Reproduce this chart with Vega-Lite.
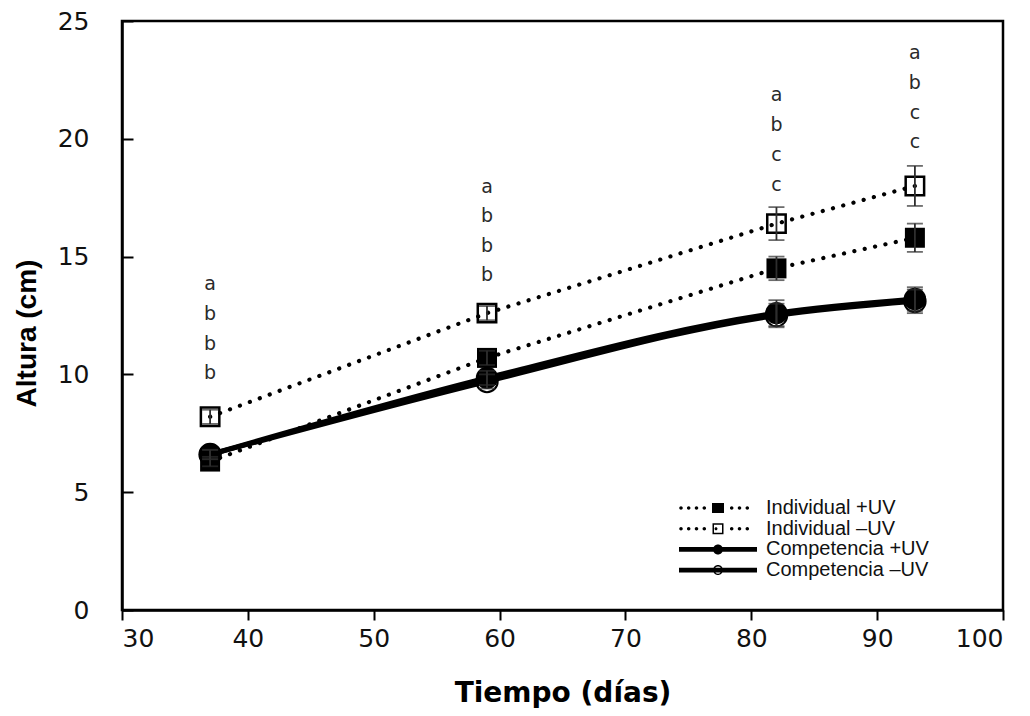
{
  "$schema": "https://vega.github.io/schema/vega-lite/v6.json",
  "width": 881,
  "height": 589,
  "autosize": "none",
  "padding": {"left": 122, "top": 21, "right": 27, "bottom": 106},
  "background": "white",
  "config": {
    "view": {"stroke": "black", "strokeWidth": 2.5},
    "axis": {
      "domainColor": "black",
      "domainWidth": 2.5,
      "tickColor": "black",
      "tickWidth": 2,
      "grid": false,
      "labelFont": "DejaVu Sans",
      "labelFontSize": 25,
      "labelColor": "#111",
      "titleColor": "black",
      "titleFontWeight": "bold"
    }
  },
  "datasets": {
    "medias": [
      {"dias": 37, "altura": 6.3, "ee": 0.2, "serie": "Individual +UV"},
      {"dias": 59, "altura": 10.7, "ee": 0.3, "serie": "Individual +UV"},
      {"dias": 82, "altura": 14.5, "ee": 0.5, "serie": "Individual +UV"},
      {"dias": 93, "altura": 15.8, "ee": 0.6, "serie": "Individual +UV"},
      {"dias": 37, "altura": 8.2, "ee": 0.3, "serie": "Individual –UV"},
      {"dias": 59, "altura": 12.6, "ee": 0.3, "serie": "Individual –UV"},
      {"dias": 82, "altura": 16.4, "ee": 0.7, "serie": "Individual –UV"},
      {"dias": 93, "altura": 18.0, "ee": 0.85, "serie": "Individual –UV"},
      {"dias": 37, "altura": 6.6, "ee": 0.2, "serie": "Competencia +UV"},
      {"dias": 59, "altura": 9.85, "ee": 0.3, "serie": "Competencia +UV"},
      {"dias": 82, "altura": 12.6, "ee": 0.55, "serie": "Competencia +UV"},
      {"dias": 93, "altura": 13.2, "ee": 0.5, "serie": "Competencia +UV"},
      {"dias": 37, "altura": 6.6, "ee": 0.2, "serie": "Competencia –UV"},
      {"dias": 59, "altura": 9.7, "ee": 0.3, "serie": "Competencia –UV"},
      {"dias": 82, "altura": 12.5, "ee": 0.5, "serie": "Competencia –UV"},
      {"dias": 93, "altura": 13.1, "ee": 0.5, "serie": "Competencia –UV"}
    ],
    "letras": [
      {"dias": 37, "nivel": 13.58, "letra": "a"},
      {"dias": 37, "nivel": 12.3, "letra": "b"},
      {"dias": 37, "nivel": 11.05, "letra": "b"},
      {"dias": 37, "nivel": 9.8, "letra": "b"},
      {"dias": 59, "nivel": 17.7, "letra": "a"},
      {"dias": 59, "nivel": 16.45, "letra": "b"},
      {"dias": 59, "nivel": 15.2, "letra": "b"},
      {"dias": 59, "nivel": 13.95, "letra": "b"},
      {"dias": 82, "nivel": 21.6, "letra": "a"},
      {"dias": 82, "nivel": 20.33, "letra": "b"},
      {"dias": 82, "nivel": 19.07, "letra": "c"},
      {"dias": 82, "nivel": 17.8, "letra": "c"},
      {"dias": 93, "nivel": 23.37, "letra": "a"},
      {"dias": 93, "nivel": 22.1, "letra": "b"},
      {"dias": 93, "nivel": 20.85, "letra": "c"},
      {"dias": 93, "nivel": 19.6, "letra": "c"}
    ]
  },
  "data": {"name": "medias"},
  "encoding": {
    "x": {
      "field": "dias", "type": "quantitative",
      "scale": {"domain": [30, 100], "nice": false, "zero": false},
      "axis": {
        "values": [30, 40, 50, 60, 70, 80, 90, 100],
        "title": "Tiempo (días)",
        "titleFont": "DejaVu Sans", "titleFontSize": 28,
        "tickSize": 10, "labelPadding": 6, "titlePadding": 28
      }
    },
    "y": {
      "field": "altura", "type": "quantitative",
      "scale": {"domain": [0, 25], "nice": false},
      "axis": {
        "values": [0, 5, 10, 15, 20, 25],
        "title": "Altura (cm)",
        "titleFont": "Liberation Sans", "titleFontSize": 28,
        "titleY": 312,
        "tickSize": -11, "labelPadding": 44, "titlePadding": 16
      }
    }
  },
  "layer": [
    {
      "transform": [{"filter": "datum.serie === 'Individual +UV'"}],
      "mark": {"type": "point", "shape": "square", "filled": true, "color": "black", "size": 400, "opacity": 1}
    },
    {
      "transform": [{"filter": "datum.serie === 'Individual –UV'"}],
      "mark": {"type": "point", "shape": "square", "filled": false, "fill": "white", "stroke": "black", "strokeWidth": 2.5, "size": 340, "opacity": 1}
    },
    {
      "transform": [{"filter": "datum.serie === 'Competencia –UV'"}],
      "mark": {"type": "point", "shape": "circle", "filled": false, "fill": "white", "stroke": "black", "strokeWidth": 2, "size": 460, "opacity": 1}
    },
    {
      "transform": [{"filter": "datum.serie === 'Competencia +UV'"}],
      "mark": {"type": "point", "shape": "circle", "filled": true, "color": "black", "size": 500, "opacity": 1}
    },
    {
      "transform": [{"filter": "indexof(datum.serie, 'Individual') === 0"}],
      "mark": {"type": "line", "color": "black", "strokeWidth": 4.2, "strokeDash": [0.1, 10.5], "strokeCap": "round"},
      "encoding": {"detail": {"field": "serie"}}
    },
    {
      "transform": [{"filter": "indexof(datum.serie, 'Competencia') === 0"}],
      "mark": {"type": "line", "color": "black", "strokeWidth": 5, "interpolate": "monotone"},
      "encoding": {"detail": {"field": "serie"}}
    },
    {
      "mark": {"type": "errorbar", "ticks": true, "size": 16, "thickness": 1.8, "color": "#2e2e2e"},
      "encoding": {
        "y": {"field": "altura", "type": "quantitative", "title": "Altura (cm)"},
        "yError": {"field": "ee"}
      }
    },
    {
      "data": {"name": "letras"},
      "mark": {"type": "text", "font": "DejaVu Sans", "fontSize": 19, "color": "#2a2a2a", "baseline": "alphabetic", "align": "center"},
      "encoding": {
        "y": {"field": "nivel", "type": "quantitative", "title": "Altura (cm)"},
        "text": {"field": "letra"}
      }
    },
    {
      "mark": {"type": "point", "filled": true, "color": "black", "opacity": 0, "size": 10},
      "encoding": {
        "shape": {
          "field": "serie", "type": "nominal",
          "scale": {
            "domain": ["Individual +UV", "Individual –UV", "Competencia +UV", "Competencia –UV"],
            "range": [
              "M-3.875,0 a0.175,0.175 0 1,0 0.35,0 a0.175,0.175 0 1,0 -0.35,0 Z M-3.105,0 a0.175,0.175 0 1,0 0.35,0 a0.175,0.175 0 1,0 -0.35,0 Z M-2.325,0 a0.175,0.175 0 1,0 0.35,0 a0.175,0.175 0 1,0 -0.35,0 Z M-1.545,0 a0.175,0.175 0 1,0 0.35,0 a0.175,0.175 0 1,0 -0.35,0 Z M1.195,0 a0.175,0.175 0 1,0 0.35,0 a0.175,0.175 0 1,0 -0.35,0 Z M1.975,0 a0.175,0.175 0 1,0 0.35,0 a0.175,0.175 0 1,0 -0.35,0 Z M2.755,0 a0.175,0.175 0 1,0 0.35,0 a0.175,0.175 0 1,0 -0.35,0 Z M-0.6,-0.5 H0.6 V0.5 H-0.6 Z",
              "M-3.875,0 a0.175,0.175 0 1,0 0.35,0 a0.175,0.175 0 1,0 -0.35,0 Z M-3.105,0 a0.175,0.175 0 1,0 0.35,0 a0.175,0.175 0 1,0 -0.35,0 Z M-2.325,0 a0.175,0.175 0 1,0 0.35,0 a0.175,0.175 0 1,0 -0.35,0 Z M-1.545,0 a0.175,0.175 0 1,0 0.35,0 a0.175,0.175 0 1,0 -0.35,0 Z M1.195,0 a0.175,0.175 0 1,0 0.35,0 a0.175,0.175 0 1,0 -0.35,0 Z M1.975,0 a0.175,0.175 0 1,0 0.35,0 a0.175,0.175 0 1,0 -0.35,0 Z M2.755,0 a0.175,0.175 0 1,0 0.35,0 a0.175,0.175 0 1,0 -0.35,0 Z M-0.55,-0.55 H0.55 V0.55 H-0.55 Z M-0.4,-0.4 V0.4 H0.4 V-0.4 Z M-0.35,0 a0.15,0.15 0 1,0 0.3,0 a0.15,0.15 0 1,0 -0.3,0 Z",
              "M-3.9,-0.23 H3.9 V0.23 H-3.9 Z M-0.5,0 A0.5,0.5 0 1,1 0.5,0 A0.5,0.5 0 1,1 -0.5,0 Z",
              "M-3.9,-0.23 H3.9 V0.23 H-3.9 Z M-0.5,0 A0.5,0.5 0 1,1 0.5,0 A0.5,0.5 0 1,1 -0.5,0 Z M-0.37,0 A0.37,0.37 0 1,0 0.37,0 A0.37,0.37 0 1,0 -0.37,0 Z"
            ]
          },
          "legend": {
            "title": null,
            "orient": "none",
            "legendX": 586,
            "legendY": 477,
            "padding": 0,
            "symbolSize": 400,
            "symbolFillColor": "black",
            "symbolStrokeColor": "black",
            "symbolStrokeWidth": 0,
            "symbolOpacity": 1,
            "labelFont": "Liberation Sans",
            "labelFontSize": 20,
            "labelColor": "#111",
            "labelOffset": 38,
            "rowPadding": 0.7,
            "labelLimit": 400
          }
        }
      }
    }
  ]
}
